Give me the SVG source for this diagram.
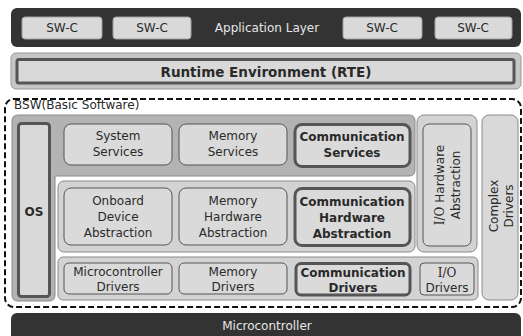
<svg xmlns="http://www.w3.org/2000/svg" width="523" height="336" viewBox="0 0 523 336">
<style>
text{font-family:"DejaVu Sans","Liberation Sans",sans-serif;font-size:12px;fill:#2a2a2a;text-anchor:middle}
.b{font-weight:bold}
.lt{fill:#e6e6e6}
.bar{fill:#333333}
.swc{fill:#d9d9d9;stroke:#a0a0a0;stroke-width:1}
.box{fill:#dadada;stroke:#555;stroke-width:1}
.thick{fill:#dadada;stroke:#555;stroke-width:3}
.cont{fill:#d3d3d3;stroke:#8a8a8a;stroke-width:1}
.serif{font-family:"DejaVu Serif","Liberation Serif",serif}
</style>
<rect width="523" height="336" fill="#ffffff"/>
<g id="application-layer">
<rect class="bar" x="11" y="8" width="510" height="39" rx="6"/>
<text class="lt" x="267" y="32">Application Layer</text>
</g>
<g id="swc1"><rect class="swc" x="22" y="17" width="80" height="22" rx="3"/><text x="62" y="32">SW-C</text></g>
<g id="swc2"><rect class="swc" x="113" y="17" width="78" height="22" rx="3"/><text x="152" y="32">SW-C</text></g>
<g id="swc3"><rect class="swc" x="343" y="17" width="79" height="22" rx="3"/><text x="382" y="32">SW-C</text></g>
<g id="swc4"><rect class="swc" x="435" y="17" width="77" height="22" rx="3"/><text x="473" y="32">SW-C</text></g>
<g id="rte">
<rect x="11" y="53" width="510" height="36" rx="5" fill="#c6c6c6" stroke="#999" stroke-width="1"/>
<rect x="17" y="59.5" width="497" height="23.5" rx="2" fill="#d9d9d9" stroke="#555" stroke-width="3"/>
<text class="b" x="266" y="77" style="font-size:13.5px">Runtime Environment (RTE)</text>
</g>
<g id="bsw">
<rect x="5" y="99" width="516" height="208" rx="9" fill="none" stroke="#111" stroke-width="2" stroke-dasharray="6 3"/>
<text x="14" y="109" style="text-anchor:start">BSW(Basic Software)</text>
</g>
<g id="services-os-frame">
<path d="M18,115 H409 Q415,115 415,121 V170 Q415,176 409,176 H55 V295 Q55,301 49,301 H18 Q12,301 12,295 V121 Q12,115 18,115 Z" fill="#b3b3b3" stroke="#8a8a8a" stroke-width="1"/>
</g>
<g id="os">
<rect x="18.5" y="123.5" width="31" height="173" rx="3" fill="#d9d9d9" stroke="#555" stroke-width="3"/>
<text class="b" x="34" y="216">OS</text>
</g>
<g id="system-services"><rect class="box" x="64" y="124" width="108" height="41" rx="7"/><text x="118" y="140">System</text><text x="118" y="156">Services</text></g>
<g id="memory-services"><rect class="box" x="179" y="124" width="108" height="41" rx="7"/><text x="233" y="140">Memory</text><text x="233" y="156">Services</text></g>
<g id="communication-services"><rect class="thick" x="295" y="124.5" width="115" height="42" rx="7"/><text class="b" x="352" y="141">Communication</text><text class="b" x="352" y="157">Services</text></g>
<g id="hw-abstraction-frame"><rect class="cont" x="58" y="181" width="357" height="71" rx="6"/></g>
<g id="onboard-device-abstraction"><rect class="box" x="64" y="188" width="108" height="57" rx="7"/><text x="118" y="205">Onboard</text><text x="118" y="221">Device</text><text x="118" y="237">Abstraction</text></g>
<g id="memory-hardware-abstraction"><rect class="box" x="179" y="188" width="108" height="57" rx="7"/><text x="233" y="205">Memory</text><text x="233" y="221">Hardware</text><text x="233" y="237">Abstraction</text></g>
<g id="communication-hardware-abstraction"><rect class="thick" x="295" y="188.5" width="115" height="57" rx="7"/><text class="b" x="352" y="206">Communication</text><text class="b" x="352" y="222">Hardware</text><text class="b" x="352" y="238">Abstraction</text></g>
<g id="drivers-frame"><rect class="cont" x="58" y="257" width="420" height="43" rx="5"/></g>
<g id="microcontroller-drivers"><rect class="box" x="64" y="263" width="108" height="31" rx="5"/><text x="118" y="276">Microcontroller</text><text x="118" y="291">Drivers</text></g>
<g id="memory-drivers"><rect class="box" x="179" y="263" width="108" height="31" rx="5"/><text x="233" y="276">Memory</text><text x="233" y="291">Drivers</text></g>
<g id="communication-drivers"><rect class="thick" x="296" y="263.5" width="114" height="31.5" rx="5"/><text class="b" x="353" y="277">Communication</text><text class="b" x="353" y="292">Drivers</text></g>
<g id="io-drivers"><rect class="box" x="420" y="263" width="54" height="32" rx="4"/><text class="serif" x="447" y="277">I/O</text><text x="447" y="292">Drivers</text></g>
<g id="io-hardware-abstraction">
<rect class="cont" x="417" y="115" width="60" height="137" rx="7"/>
<rect class="box" x="423" y="124" width="48" height="122" rx="6"/>
<g transform="translate(447,185) rotate(-90)">
<text x="0" y="-3"><tspan class="serif">I/O</tspan> Hardware</text>
<text x="0" y="13">Abstraction</text>
</g>
</g>
<g id="complex-drivers">
<rect x="482" y="115" width="36" height="185" rx="7" fill="#d9d9d9" stroke="#8a8a8a" stroke-width="1"/>
<g transform="translate(501,206) rotate(-90)">
<text x="0" y="-3">Complex</text>
<text x="0" y="12">Drivers</text>
</g>
</g>
<g id="microcontroller">
<rect class="bar" x="11" y="313" width="510" height="30" rx="6"/>
<text class="lt" x="267" y="330">Microcontroller</text>
</g>
<g id="connectors"></g>
</svg>
